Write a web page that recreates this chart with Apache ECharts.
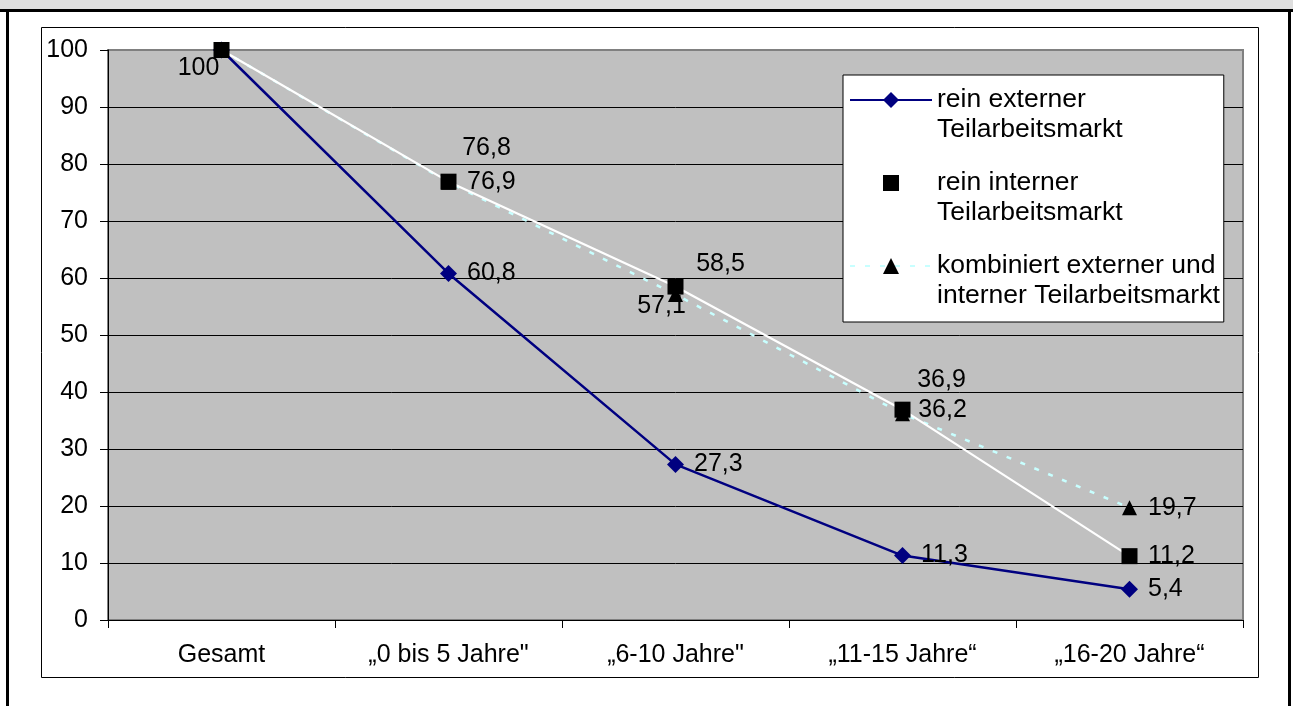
<!DOCTYPE html>
<html><head><meta charset="utf-8">
<script src="https://cdn.jsdelivr.net/npm/echarts@6/dist/echarts.min.js"></script>
<style>html,body{margin:0;padding:0;background:#fff;}#c{width:1293px;height:706px;}</style>
</head><body><div id="c"></div>
<script>
// ---- data ----
const categories = ['Gesamt', '\u201E0 bis 5 Jahre"', '\u201E6-10 Jahre"', '\u201E11-15 Jahre\u201C', '\u201E16-20 Jahre\u201C'];
const externalValues = [100, 60.8, 27.3, 11.3, 5.4];
const internalValues = [100, 76.9, 58.5, 36.9, 11.2];
const combinedValues = [100, 76.8, 57.1, 36.2, 19.7];
const seriesNames = ['rein externer\nTeilarbeitsmarkt', 'rein interner\nTeilarbeitsmarkt', 'kombiniert externer und\ninterner Teilarbeitsmarkt'];
const yMin = 0, yMax = 100, yStep = 10;

// ---- styling ----
const FONT = '"Liberation Sans", Arial, sans-serif';
const FS = 25;
// label placement tweaks (offset from point, or null = hidden)
const externalLabelTweaks = {0: null};
const internalLabelTweaks = {0: [-23, 18], 2: [45, -22], 3: [39, -30]};
const combinedLabelTweaks = {0: null, 1: [38, -34], 2: [-14, 12], 3: [40, -4]};

function fmt(v){ return String(v).replace('.', ','); }
function buildData(values, tweaks){
  return values.map((v, i) => {
    if (!(i in tweaks)) return v;
    const t = tweaks[i];
    if (t === null) return {value: v, label: {show: false}};
    return {value: v, label: {show: true, position: 'inside', offset: t}};
  });
}
const baseLabel = (dist) => ({show: true, position: 'right', distance: dist, fontSize: FS, fontFamily: FONT, color: '#000',
  formatter: p => fmt(p.value)});

const nSplit = Math.round((yMax - yMin) / yStep) + 1;
const splitColors = [];
for (let i = 0; i < nSplit; i++) splitColors.push(i === nSplit - 1 ? '#808080' : '#000');

const chart = echarts.init(document.getElementById('c'), null, {renderer: 'canvas'});
chart.setOption({
  animation: false,
  backgroundColor: '#fff',
  textStyle: {fontFamily: FONT},
  graphic: [
    {type: 'rect', shape: {x: 0, y: 0, width: 1293, height: 9}, style: {fill: '#dedede'}, z: -10},
    {type: 'rect', shape: {x: 0, y: 9, width: 1293, height: 3}, style: {fill: '#000'}, z: -10},
    {type: 'rect', shape: {x: 6, y: 9, width: 3, height: 697}, style: {fill: '#000'}, z: -10},
    {type: 'rect', shape: {x: 1288, y: 9, width: 3, height: 697}, style: {fill: '#000'}, z: -10},
    {type: 'rect', shape: {x: 41.5, y: 27.5, width: 1217, height: 650}, style: {fill: 'none', stroke: '#000', lineWidth: 1}, z: -10}
  ],
  grid: {left: 108, top: 50, width: 1135, height: 570, show: true, backgroundColor: '#c0c0c0',
    borderColor: '#808080', borderWidth: 2, containLabel: false, outerBoundsMode: 'none'},
  legend: {
    orient: 'vertical', left: 843, top: 75,
    data: seriesNames,
    formatter: name => '\n' + name,
    itemWidth: 82, itemHeight: 20, itemGap: -7,
    padding: [-20, 4, 11, 6],
    backgroundColor: '#fff', borderColor: '#000', borderWidth: 1,
    selectedMode: false,
    textStyle: {fontSize: 26.5, lineHeight: 30, color: '#000', fontFamily: FONT}
  },
  xAxis: {
    type: 'category', data: categories, boundaryGap: true,
    axisLine: {show: true, lineStyle: {color: '#000', width: 1}},
    axisTick: {show: true, length: 8, lineStyle: {color: '#000'}},
    axisLabel: {interval: 0, fontSize: FS, fontFamily: FONT, color: '#000', margin: 23},
    splitLine: {show: false}
  },
  yAxis: {
    type: 'value', min: yMin, max: yMax, interval: yStep,
    axisLine: {show: true, lineStyle: {color: '#000', width: 1}},
    axisTick: {show: true, length: 8, lineStyle: {color: '#000'}},
    axisLabel: {fontSize: FS, fontFamily: FONT, color: '#000', margin: 20},
    splitLine: {show: true, lineStyle: {color: splitColors, width: 1}}
  },
  series: [
    {name: seriesNames[0], type: 'line', data: buildData(externalValues, externalLabelTweaks),
      symbol: 'diamond', symbolSize: 17, showSymbol: true,
      lineStyle: {color: '#000080', width: 2.5}, itemStyle: {color: '#000080'},
      label: baseLabel(10), silent: true},
    {name: seriesNames[2], type: 'line', data: buildData(combinedValues, combinedLabelTweaks),
      symbol: 'triangle', symbolSize: 15, showSymbol: true,
      lineStyle: {color: '#c8ffff', width: 2.5, type: [5, 10]}, itemStyle: {color: '#000'},
      label: baseLabel(11), silent: true},
    {name: seriesNames[1], type: 'line', data: buildData(internalValues, internalLabelTweaks),
      symbol: 'rect', symbolSize: 16, showSymbol: true,
      lineStyle: {color: '#ffffff', width: 2.2}, itemStyle: {color: '#000'},
      label: baseLabel(10.5), silent: true}
  ]
});
</script></body></html>
